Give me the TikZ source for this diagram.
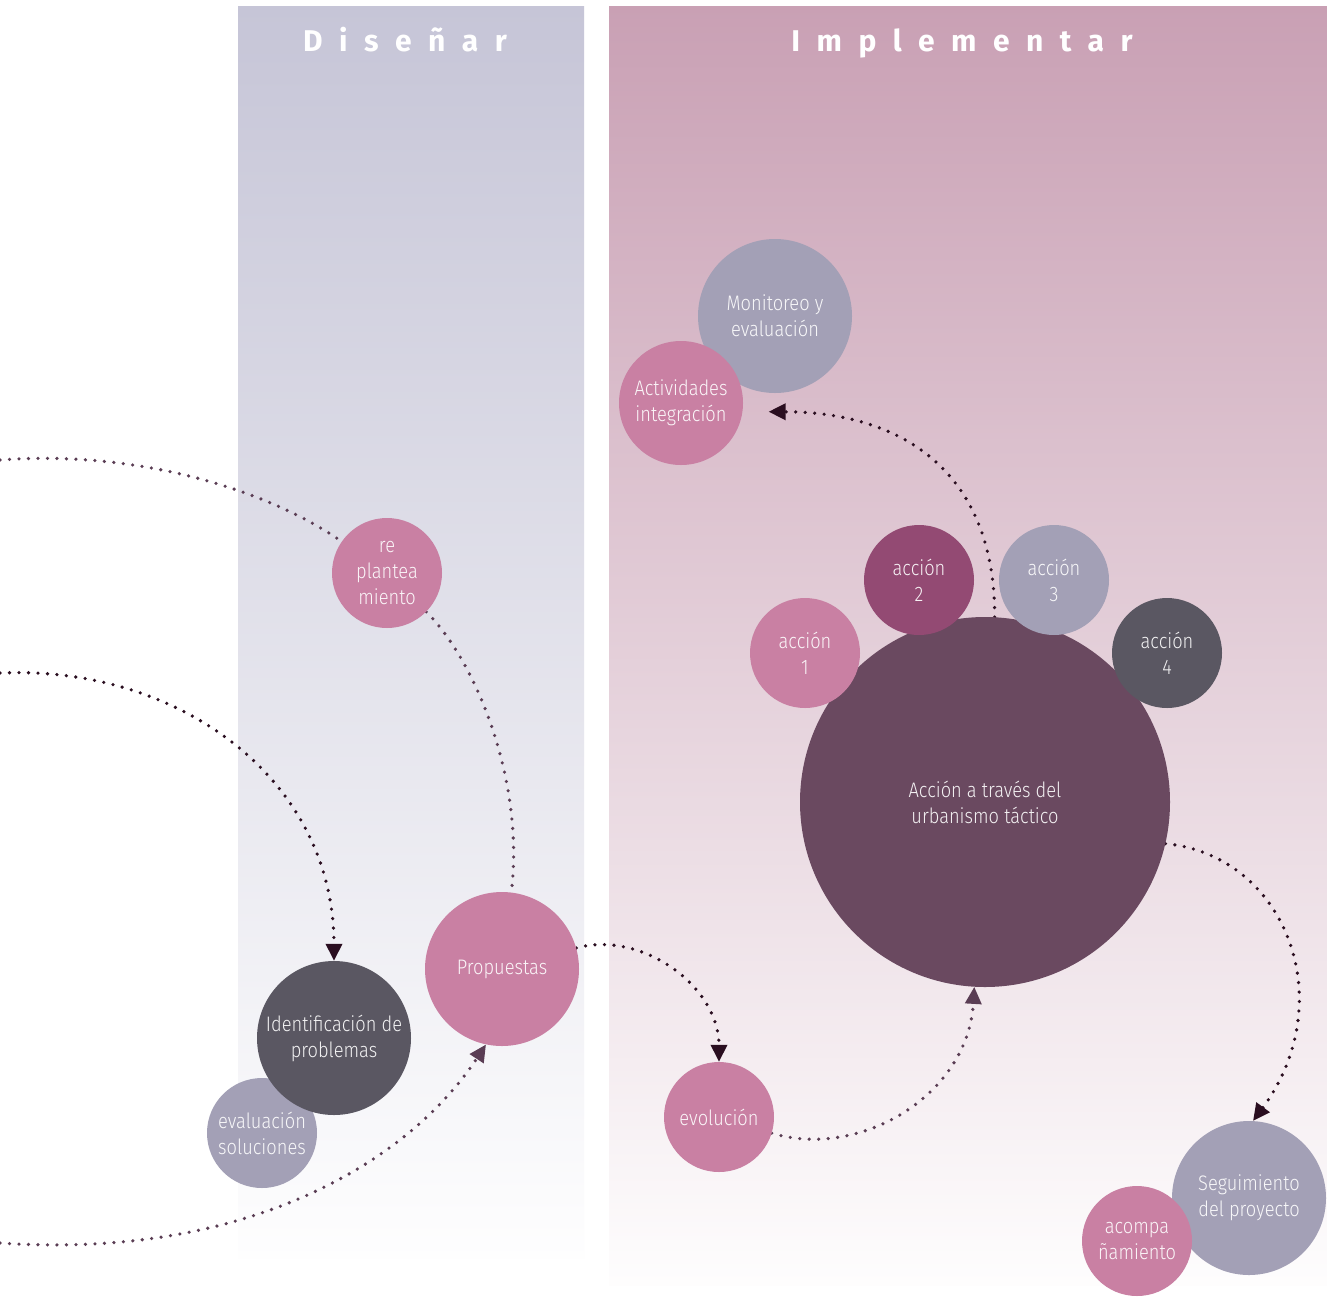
\documentclass[tikz,border=0pt]{standalone}
\usepackage{fontspec}
\setmainfont{Fira Sans}[UprightFont=* Light, FakeStretch=0.87]
\newfontfamily\titlefont{Fira Sans}[UprightFont=* Bold, LetterSpace=55]
\usetikzlibrary{arrows.meta}

\definecolor{rosa}{HTML}{C980A3}
\definecolor{lavanda}{HTML}{A3A0B6}
\definecolor{pizarra}{HTML}{5A5762}
\definecolor{ciruela}{HTML}{934A73}
\definecolor{malva}{HTML}{6A4960}
\definecolor{puntos}{HTML}{2A0E20}
\definecolor{puntosmalva}{HTML}{5A3D54}
\definecolor{disenotop}{HTML}{C6C5D7}
\definecolor{impltop}{HTML}{C9A0B4}

\pgfdeclarelayer{back}
\pgfdeclarelayer{lines}
\pgfsetlayers{back,lines,main}

\tikzset{
    bubble/.style={circle, inner sep=0pt, align=center, text=white, text opacity=0.92,
        font=\fontsize{21}{26}\selectfont},
    small/.style={bubble, minimum size=110pt},
    mid/.style={bubble, minimum size=154pt},
    flow/.style={line width=3.6pt, line cap=round, dash pattern=on 0pt off 9.5pt, draw=puntos},
    soft/.style={draw=puntosmalva},
    tip/.style={-{Triangle[length=17pt,width=16pt]}},
    titulo/.style={anchor=base, text=white, font=\titlefont\fontsize{30}{36}\selectfont}
}

\begin{document}
\begin{tikzpicture}[x=1pt, y=-1pt]
    \useasboundingbox (0,0) rectangle (1327,1296);

    % Panels
    \begin{pgfonlayer}{back}
        \fill[white] (0,0) rectangle (1327,1296);
        \shade[top color=disenotop, bottom color=white!98!disenotop] (238,6) rectangle (584,1258);
        \shade[top color=impltop, bottom color=white!98!impltop] (609,6) rectangle (1327,1285);
    \end{pgfonlayer}
    \node[titulo] (tdis) at (405,51) {Diseñar};
    \node[titulo] (timp) at (962,51) {Implementar};

    % Disenar
    \node[small, fill=rosa] (replant) at (387,573) {re\\plantea\\miento};
    \node[mid, fill=rosa] (prop) at (502,969) {Propuestas};
    \node[small, fill=lavanda] (evalsol) at (262,1133) {evaluación\\soluciones};
    \node[mid, fill=pizarra] (ident) at (334,1038) {Identificación de\\problemas};

    % Implementar
    \node[mid, fill=lavanda] (monit) at (775,316) {Monitoreo y\\evaluación};
    \node[bubble, minimum size=124pt, fill=rosa] (act) at (681,403) {Actividades\\integración};
    \node[bubble, minimum size=370pt, fill=malva] (big) at (985,802) {Acción a través del\\urbanismo táctico};
    \node[small, fill=rosa] (acc1) at (805,653) {acción\\1};
    \node[small, fill=ciruela] (acc2) at (919,580) {acción\\2};
    \node[small, fill=lavanda] (acc3) at (1054,580) {acción\\3};
    \node[small, fill=pizarra] (acc4) at (1167,653) {acción\\4};
    \node[small, fill=rosa] (evol) at (719,1117) {evolución};
    \node[mid, fill=lavanda] (seg) at (1249,1198) {Seguimiento\\del proyecto};
    \node[small, fill=rosa] (acomp) at (1137,1241) {acompa\\ñamiento};

    % Free ends at the left border
    \coordinate (wA) at (0,460);
    \coordinate (wB) at (0,673);
    \coordinate (wC) at (0,1243);

    % Dotted connectors
    \begin{pgfonlayer}{lines}
        \draw[flow, soft] (wA) .. controls (130,450) and (262,486) .. (replant);
        \draw[flow, soft] (replant) .. controls (475,660) and (525,780) .. (prop);
        \draw[flow, tip] (wB) .. controls (180,665) and (334,780) .. (ident);
        \draw[flow, soft, tip] (wC) .. controls (250,1260) and (410,1160) .. (prop.258);
        \draw[flow, tip] (prop) .. controls (640,930) and (719,985) .. (evol);
        \draw[flow, soft, tip] (evol) .. controls (860,1160) and (968,1095) .. (big);
        \draw[flow, tip, shorten >=26pt] (big.87) .. controls (995,470) and (900,412) .. (act.-8);
        \draw[flow, tip] (big.347) .. controls (1285,855) and (1342,1000) .. (seg.87);
    \end{pgfonlayer}
\end{tikzpicture}
\end{document}
